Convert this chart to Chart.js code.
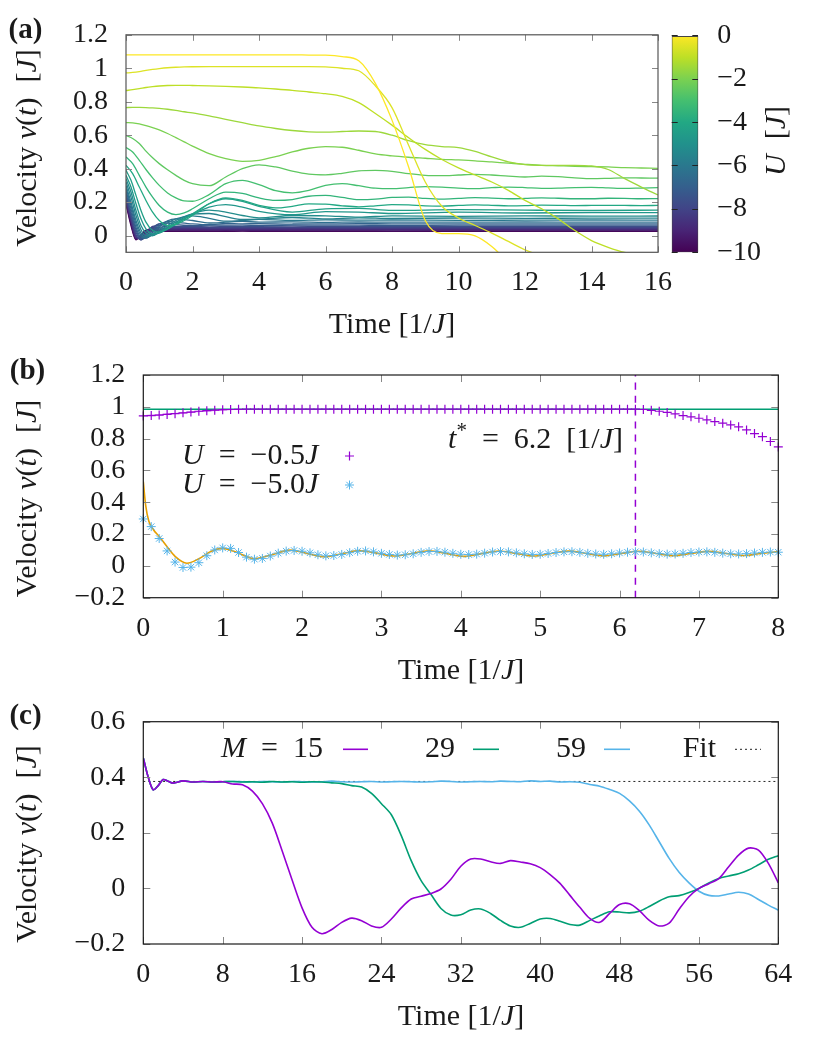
<!DOCTYPE html>
<html>
<head>
<meta charset="utf-8">
<script src="https://cdn.jsdelivr.net/npm/chart.js@4.4.1/dist/chart.umd.min.js"></script>
<style>
  html, body { margin: 0; padding: 0; background: #fff; }
  #page { position: relative; width: 831px; height: 1038px; overflow: hidden; }
  canvas { position: absolute; left: 0; top: 0; }
</style>
</head>
<body>
<div id="page">
  <canvas id="chartA" width="831" height="1038"></canvas>
  <canvas id="chartCb" width="831" height="1038"></canvas>
  <canvas id="chartB" width="831" height="1038"></canvas>
  <canvas id="chartC" width="831" height="1038"></canvas>
</div>
<script>
// ---------- panel (a): velocity for different U ----------
const T_A = [0, 0.2, 0.4, 0.6, 0.8, 1, 1.25, 1.5, 1.75, 2, 2.5, 3, 3.5, 4, 4.5, 5, 5.5, 6, 6.5, 7,
  7.5, 8, 8.5, 9, 9.5, 10, 10.5, 11, 11.5, 12, 12.5, 13, 13.5, 14, 14.5, 15, 15.5, 16];

const V_U0 = [1.08, 1.08, 1.08, 1.08, 1.08, 1.08, 1.08, 1.08, 1.08, 1.08, 1.08, 1.08, 1.08, 1.08, 1.08, 1.08,
  1.079, 1.078, 1.07, 1.045, 0.91, 0.69, 0.41, 0.09, 0.012, 0.012, -0.002, -0.065, -0.16, -0.25,
  -0.3, -0.3, -0.3, -0.3, -0.3, -0.3, -0.3, -0.3];
const V_U05 = [0.972, 0.975, 0.98, 0.987, 0.993, 0.998, 1.003, 1.006, 1.008, 1.009, 1.01, 1.01, 1.01, 1.01,
  1.01, 1.01, 1.01, 1.008, 1.0, 0.985, 0.895, 0.765, 0.54, 0.32, 0.175, 0.105, 0.06, 0.015, -0.035,
  -0.085, -0.12, -0.14, -0.15, -0.15, -0.15, -0.15, -0.15, -0.15];
const V_U1 = [0.867, 0.872, 0.878, 0.885, 0.89, 0.894, 0.897, 0.898, 0.898, 0.897, 0.895, 0.892, 0.888, 0.883,
  0.876, 0.868, 0.858, 0.848, 0.832, 0.795, 0.73, 0.66, 0.585, 0.515, 0.455, 0.405, 0.362, 0.32, 0.27,
  0.21, 0.16, 0.1, 0.03, -0.03, -0.07, -0.1, -0.115, -0.125];
const V_U15 = [0.765, 0.766, 0.766, 0.765, 0.763, 0.76, 0.755, 0.748, 0.74, 0.733, 0.715, 0.695, 0.675, 0.655,
  0.64, 0.628, 0.62, 0.618, 0.622, 0.625, 0.622, 0.6, 0.567, 0.543, 0.532, 0.526, 0.503, 0.47, 0.44,
  0.424, 0.42, 0.42, 0.42, 0.416, 0.395, 0.34, 0.29, 0.243];
const V_U2 = [0.675, 0.673, 0.667, 0.657, 0.645, 0.632, 0.61, 0.585, 0.56, 0.535, 0.49, 0.46, 0.444, 0.45,
  0.472, 0.5, 0.522, 0.532, 0.528, 0.51, 0.488, 0.476, 0.468, 0.462, 0.456, 0.452, 0.447, 0.44, 0.433,
  0.426, 0.42, 0.417, 0.414, 0.412, 0.41, 0.406, 0.404, 0.402];
const V_U25 = [0.598, 0.58, 0.55, 0.505, 0.465, 0.43, 0.393, 0.36, 0.33, 0.31, 0.298, 0.35, 0.4, 0.423, 0.41,
  0.385, 0.367, 0.363, 0.372, 0.387, 0.39, 0.384, 0.37, 0.36, 0.358, 0.362, 0.366, 0.362, 0.355, 0.35,
  0.355, 0.352, 0.345, 0.34, 0.342, 0.345, 0.344, 0.343];
const V_U3 = [0.526, 0.5, 0.45, 0.395, 0.345, 0.3, 0.255, 0.225, 0.207, 0.205, 0.245, 0.31, 0.33, 0.305, 0.268,
  0.255, 0.27, 0.3, 0.31, 0.298, 0.283, 0.28, 0.287, 0.293, 0.29, 0.283, 0.28, 0.286, 0.29, 0.287, 0.282,
  0.283, 0.287, 0.288, 0.285, 0.282, 0.284, 0.286];
const V_U35 = [0.47, 0.43, 0.36, 0.29, 0.23, 0.18, 0.14, 0.125, 0.135, 0.16, 0.22, 0.26, 0.252, 0.225, 0.21,
  0.215, 0.235, 0.24, 0.228, 0.215, 0.218, 0.228, 0.23, 0.222, 0.218, 0.222, 0.227, 0.224, 0.22, 0.222,
  0.225, 0.223, 0.22, 0.22, 0.223, 0.222, 0.22, 0.221];
const V_U4 = [0.42, 0.37, 0.29, 0.21, 0.14, 0.09, 0.06, 0.065, 0.09, 0.12, 0.19, 0.225, 0.21, 0.18, 0.165,
  0.175, 0.19, 0.188, 0.178, 0.172, 0.178, 0.185, 0.183, 0.177, 0.176, 0.18, 0.183, 0.181, 0.178, 0.179,
  0.182, 0.181, 0.179, 0.18, 0.181, 0.18, 0.179, 0.18];

const U_TOP = [0, -0.5, -1, -1.5, -2, -2.5, -3, -3.5, -4];
const V_TOP = [V_U0, V_U05, V_U1, V_U15, V_U2, V_U25, V_U3, V_U35, V_U4];

const T_LOW = [0, 0.15, 0.3, 0.45, 0.6, 0.8, 1, 1.25, 1.5, 2, 2.5, 3, 3.5, 4, 5, 6, 7, 8, 10, 12, 14, 16];
const U_LOW = [-4.4, -4.8, -5.2, -5.6, -6, -6.4, -6.8, -7.2, -7.6, -8, -8.4, -8.8, -9.2, -9.6, -10];
const V_LOW = [
  [0.39, 0.33, 0.24, 0.15, 0.08, 0.03, 0.02, 0.04, 0.07, 0.13, 0.19, 0.22, 0.205, 0.175, 0.14, 0.16, 0.162, 0.15, 0.155, 0.152, 0.15, 0.152],
  [0.36, 0.29, 0.19, 0.1, 0.04, 0.01, 0.015, 0.04, 0.07, 0.125, 0.17, 0.185, 0.17, 0.145, 0.125, 0.143, 0.14, 0.132, 0.14, 0.135, 0.138, 0.137],
  [0.34, 0.26, 0.15, 0.06, 0.015, 0.0, 0.02, 0.05, 0.08, 0.13, 0.152, 0.14, 0.12, 0.106, 0.12, 0.118, 0.11, 0.118, 0.115, 0.118, 0.116, 0.117],
  [0.32, 0.23, 0.12, 0.035, 0.0, 0.0, 0.025, 0.06, 0.09, 0.128, 0.132, 0.113, 0.096, 0.098, 0.108, 0.1, 0.106, 0.102, 0.105, 0.103, 0.104, 0.104],
  [0.3, 0.2, 0.09, 0.015, -0.01, 0.005, 0.035, 0.075, 0.1, 0.118, 0.103, 0.086, 0.09, 0.097, 0.09, 0.094, 0.092, 0.093, 0.091, 0.092, 0.093, 0.092],
  [0.285, 0.18, 0.07, 0.0, -0.015, 0.01, 0.05, 0.088, 0.1, 0.09, 0.075, 0.08, 0.085, 0.08, 0.082, 0.079, 0.081, 0.08, 0.08, 0.081, 0.08, 0.08],
  [0.27, 0.16, 0.05, -0.01, -0.015, 0.02, 0.06, 0.085, 0.08, 0.07, 0.065, 0.072, 0.07, 0.071, 0.069, 0.07, 0.071, 0.07, 0.07, 0.07, 0.07, 0.07],
  [0.255, 0.14, 0.035, -0.02, -0.01, 0.03, 0.07, 0.075, 0.065, 0.06, 0.063, 0.062, 0.062, 0.061, 0.062, 0.063, 0.062, 0.061, 0.062, 0.062, 0.062, 0.062],
  [0.24, 0.125, 0.02, -0.025, -0.005, 0.045, 0.07, 0.06, 0.055, 0.055, 0.056, 0.055, 0.054, 0.055, 0.056, 0.055, 0.055, 0.054, 0.055, 0.055, 0.055, 0.055],
  [0.23, 0.11, 0.005, -0.025, 0.005, 0.055, 0.06, 0.05, 0.048, 0.049, 0.048, 0.047, 0.048, 0.048, 0.049, 0.048, 0.047, 0.048, 0.048, 0.048, 0.048, 0.048],
  [0.22, 0.1, -0.005, -0.02, 0.015, 0.05, 0.048, 0.042, 0.042, 0.043, 0.042, 0.041, 0.042, 0.042, 0.042, 0.043, 0.042, 0.042, 0.042, 0.042, 0.042, 0.042],
  [0.21, 0.09, -0.012, -0.015, 0.025, 0.045, 0.04, 0.036, 0.036, 0.037, 0.036, 0.036, 0.035, 0.036, 0.036, 0.036, 0.037, 0.036, 0.036, 0.036, 0.036, 0.036],
  [0.2, 0.08, -0.018, -0.008, 0.03, 0.038, 0.034, 0.032, 0.032, 0.032, 0.033, 0.032, 0.032, 0.031, 0.032, 0.032, 0.032, 0.032, 0.032, 0.032, 0.032, 0.032],
  [0.195, 0.07, -0.022, 0.0, 0.032, 0.03, 0.029, 0.028, 0.028, 0.028, 0.028, 0.029, 0.028, 0.028, 0.028, 0.028, 0.028, 0.027, 0.028, 0.028, 0.028, 0.028],
  [0.19, 0.06, -0.025, 0.005, 0.03, 0.027, 0.025, 0.025, 0.025, 0.025, 0.025, 0.025, 0.026, 0.025, 0.025, 0.025, 0.025, 0.025, 0.025, 0.025, 0.025, 0.025]
];

const A_X_TICKS = [0, 2, 4, 6, 8, 10, 12, 14, 16];
const A_Y_TICKS = [0, 0.2, 0.4, 0.6, 0.8, 1, 1.2];
const CB_RANGE = [-10, 0];
const CB_TICKS = [-10, -8, -6, -4, -2, 0];

// ---------- panel (b): two values of U ----------
const T_B = [0, 0.1, 0.2, 0.3, 0.4, 0.5, 0.6, 0.7, 0.8, 0.9, 1, 1.1, 1.2, 1.3, 1.4, 1.5, 1.6, 1.7, 1.8, 1.9,
  2, 2.1, 2.2, 2.3, 2.4, 2.5, 2.6, 2.7, 2.8, 2.9, 3, 3.1, 3.2, 3.3, 3.4, 3.5, 3.6, 3.7, 3.8, 3.9,
  4, 4.1, 4.2, 4.3, 4.4, 4.5, 4.6, 4.7, 4.8, 4.9, 5, 5.1, 5.2, 5.3, 5.4, 5.5, 5.6, 5.7, 5.8, 5.9,
  6, 6.1, 6.2, 6.3, 6.4, 6.5, 6.6, 6.7, 6.8, 6.9, 7, 7.1, 7.2, 7.3, 7.4, 7.5, 7.6, 7.7, 7.8, 7.9, 8];
const V_B_U05 = [0.943, 0.945, 0.948, 0.952, 0.957, 0.962, 0.967, 0.972, 0.976, 0.979,
  0.982, 0.983, 0.984, 0.985, 0.985, 0.985, 0.985, 0.985, 0.985, 0.985,
  0.985, 0.985, 0.985, 0.985, 0.985, 0.985, 0.985, 0.985, 0.985, 0.985,
  0.985, 0.985, 0.985, 0.985, 0.985, 0.985, 0.985, 0.985, 0.985, 0.985,
  0.985, 0.985, 0.985, 0.985, 0.985, 0.985, 0.985, 0.985, 0.985, 0.985,
  0.985, 0.985, 0.985, 0.985, 0.985, 0.985, 0.985, 0.985, 0.985, 0.985,
  0.985, 0.985, 0.985, 0.983, 0.978, 0.972, 0.965, 0.955, 0.945, 0.937,
  0.928, 0.918, 0.907, 0.897, 0.886, 0.874, 0.855, 0.832, 0.812, 0.782, 0.748];
const V_B_U50 = [0.295, 0.247, 0.172, 0.094, 0.024, -0.01, -0.008, 0.02, 0.064, 0.1,
  0.113, 0.11, 0.084, 0.055, 0.042, 0.047, 0.062, 0.08, 0.093, 0.097,
  0.092, 0.082, 0.07, 0.063, 0.065, 0.072, 0.083, 0.092, 0.094, 0.088,
  0.079, 0.072, 0.068, 0.07, 0.076, 0.085, 0.09, 0.091, 0.086, 0.079,
  0.073, 0.071, 0.074, 0.08, 0.087, 0.09, 0.088, 0.082, 0.076, 0.072,
  0.073, 0.078, 0.084, 0.088, 0.089, 0.085, 0.079, 0.075, 0.073, 0.076,
  0.081, 0.086, 0.089, 0.087, 0.082, 0.077, 0.074, 0.075, 0.079, 0.084,
  0.087, 0.088, 0.085, 0.08, 0.076, 0.075, 0.077, 0.081, 0.085, 0.087, 0.086];
const T_B_LINE05 = [0, 0.2, 0.4, 0.6, 0.8, 1.0, 1.2];
const V_B_LINE05 = [0.945, 0.95, 0.958, 0.967, 0.975, 0.981, 0.984];
const T_B_FLAT = [0, 8];
const V_B_FLAT = [0.985, 0.985];
const T_B_OR = [0, 0.03, 0.07, 0.13, 0.2, 0.3, 0.4, 0.55, 0.7, 0.85, 1.0, 1.2, 1.4, 1.62, 1.85, 2.06, 2.28,
  2.5, 2.72, 2.94, 3.16, 3.38, 3.6, 3.82, 4.04, 4.26, 4.48, 4.7, 4.92, 5.14, 5.36, 5.58, 5.8, 6.02, 6.24,
  6.46, 6.68, 6.9, 7.12, 7.34, 7.56, 7.78, 8.0];
const V_B_OR = [0.53, 0.38, 0.28, 0.226, 0.185, 0.12, 0.06, 0.017, 0.045, 0.09, 0.11, 0.08, 0.045, 0.07,
  0.099, 0.078, 0.057, 0.076, 0.096, 0.08, 0.062, 0.078, 0.095, 0.078, 0.06, 0.077, 0.094, 0.078, 0.062,
  0.078, 0.093, 0.078, 0.063, 0.078, 0.092, 0.078, 0.064, 0.078, 0.091, 0.078, 0.065, 0.078, 0.09];
const T_STAR = 6.2;
const B_X_TICKS = [0, 1, 2, 3, 4, 5, 6, 7, 8];
const B_Y_TICKS = [-0.2, 0, 0.2, 0.4, 0.6, 0.8, 1, 1.2];

// ---------- panel (c): bond dimension M ----------
const T_C = [0, 0.5, 1, 1.5, 2, 2.5, 3, 4, 5, 6, 7, 8, 9, 10, 11, 12, 13, 14, 15, 16, 17, 18, 19, 20,
  21, 22, 23, 24, 25, 26, 27, 28, 29, 30, 31, 32, 33, 34, 35, 36, 37, 38, 39, 40, 41, 42, 43, 44,
  45, 46, 47, 48, 49, 50, 51, 52, 53, 54, 55, 56, 57, 58, 59, 60, 61, 62, 63, 64];
const V_M15 = [0.47, 0.4, 0.355, 0.37, 0.392, 0.386, 0.379, 0.387, 0.383, 0.385, 0.383, 0.384,
  0.376, 0.373, 0.35, 0.305, 0.235, 0.135, 0.03, -0.07, -0.14, -0.163, -0.148, -0.122, -0.107, -0.116,
  -0.135, -0.14, -0.11, -0.07, -0.038, -0.028, -0.018, -0.002, 0.033, 0.08, 0.106, 0.106, 0.096, 0.09,
  0.1, 0.095, 0.089, 0.075, 0.05, 0.018, -0.025, -0.068, -0.108, -0.122, -0.09, -0.058, -0.055, -0.08,
  -0.115, -0.135, -0.125, -0.075, -0.03, 0.0, 0.017, 0.035, 0.078, 0.12, 0.145, 0.138, 0.09, 0.02];
const V_M29 = [0.47, 0.4, 0.355, 0.37, 0.392, 0.386, 0.379, 0.387, 0.383, 0.385, 0.383, 0.384,
  0.385, 0.383, 0.384, 0.382, 0.385, 0.383, 0.384, 0.382, 0.384, 0.383, 0.38, 0.377, 0.37, 0.365,
  0.342, 0.305, 0.265, 0.19, 0.1, 0.028, -0.022, -0.072, -0.096, -0.095, -0.078, -0.074, -0.09, -0.115,
  -0.135, -0.14, -0.126, -0.11, -0.108, -0.118, -0.13, -0.132, -0.115, -0.098, -0.084, -0.085, -0.088,
  -0.082, -0.065, -0.045, -0.03, -0.026, -0.015, 0.0, 0.02, 0.036, 0.045, 0.053, 0.066, 0.085, 0.105, 0.118];
const V_M59 = [0.47, 0.4, 0.355, 0.37, 0.392, 0.386, 0.379, 0.387, 0.383, 0.385, 0.383, 0.384,
  0.385, 0.384, 0.383, 0.385, 0.384, 0.383, 0.385, 0.384, 0.383, 0.384, 0.386, 0.384, 0.383, 0.384,
  0.385, 0.383, 0.384, 0.385, 0.384, 0.383, 0.384, 0.386, 0.385, 0.383, 0.384, 0.385, 0.384, 0.386,
  0.385, 0.384, 0.387, 0.385, 0.386, 0.383, 0.384, 0.382, 0.374, 0.368, 0.356, 0.342, 0.315, 0.278,
  0.228, 0.168, 0.108, 0.058, 0.02, -0.01, -0.025, -0.027, -0.02, -0.014, -0.02, -0.04, -0.06, -0.078];
const T_FIT = [0, 64];
const V_FIT = [0.385, 0.385];
const C_X_TICKS = [0, 8, 16, 24, 32, 40, 48, 56, 64];
const C_Y_TICKS = [-0.2, 0, 0.2, 0.4, 0.6];

// ---------- styling helpers ----------
const PAGE_W = 831, PAGE_H = 1038;
const FAM = '"Liberation Serif", "DejaVu Serif", serif';
const INK = '#1a1a1a';
const VIRIDIS = ['#440154', '#482475', '#414487', '#355f8d', '#2a788e', '#21918c',
  '#22a884', '#44bf70', '#7ad151', '#bddf26', '#fde725'];

function viridis(f) {
  f = Math.max(0, Math.min(1, f));
  const p = f * (VIRIDIS.length - 1);
  const i = Math.min(Math.floor(p), VIRIDIS.length - 2);
  const w = p - i;
  const a = parseInt(VIRIDIS[i].slice(1), 16), b = parseInt(VIRIDIS[i + 1].slice(1), 16);
  const ch = (n, s) => (n >> s) & 255;
  const mix = s => Math.round(ch(a, s) * (1 - w) + ch(b, s) * w);
  return `rgb(${mix(16)},${mix(8)},${mix(0)})`;
}

const pts = (ts, vs) => vs.map((v, i) => ({ x: ts[i], y: v }));

function fmt(v) {
  const r = Math.round(v * 100) / 100;
  return r < 0 ? '\u2212' + String(Math.abs(r)) : String(r);
}

function fontFor(style, size) {
  if (style === 'b') return 'bold ' + size + 'px ' + FAM;
  if (style === 'i') return 'italic ' + size + 'px ' + FAM;
  if (style === 's') return Math.round(size * 0.7) + 'px ' + FAM;
  return size + 'px ' + FAM;
}

function rich(ctx, parts, x, y, align, size) {
  let w = 0;
  parts.forEach(([t, s]) => { ctx.font = fontFor(s, size); w += ctx.measureText(t).width; });
  let cx = align === 'center' ? x - w / 2 : align === 'right' ? x - w : x;
  ctx.textAlign = 'left';
  ctx.textBaseline = 'middle';
  ctx.fillStyle = INK;
  parts.forEach(([t, s]) => {
    ctx.font = fontFor(s, size);
    ctx.fillText(t, cx, s === 's' ? y - size * 0.28 : y);
    cx += ctx.measureText(t).width;
  });
}

function rotRich(ctx, parts, x, y, size) {
  ctx.save();
  ctx.translate(x, y);
  ctx.rotate(-Math.PI / 2);
  rich(ctx, parts, 0, 0, 'center', size);
  ctx.restore();
}

const Y_TITLE = [['Velocity ', ''], ['v', 'i'], ['(', ''], ['t', 'i'], [')  [', ''], ['J', 'i'], [']', '']];
const X_TITLE = [['Time [1/', ''], ['J', 'i'], [']', '']];

function xAxis(min, max, ticks, h) {
  return {
    type: 'linear', min: min, max: max,
    afterBuildTicks: s => { s.ticks = ticks.map(v => ({ value: v })); },
    afterFit: s => { s.height = h; },
    grid: { display: false, drawTicks: false },
    border: { display: false },
    ticks: { padding: 14, color: INK, font: { family: FAM, size: 28 }, maxRotation: 0, autoSkip: false, callback: v => fmt(v) }
  };
}

function yAxis(min, max, ticks, w) {
  return {
    type: 'linear', min: min, max: max,
    afterBuildTicks: s => { s.ticks = ticks.map(v => ({ value: v })); },
    afterFit: s => { s.width = w; },
    grid: { display: false, drawTicks: false },
    border: { display: false },
    ticks: { padding: 18, color: INK, font: { family: FAM, size: 28 }, autoSkip: false, callback: v => fmt(v) }
  };
}

// frame with inward ticks on all four sides
const framePlugin = {
  id: 'frame',
  afterDatasetsDraw(chart, args, opts) {
    const { ctx, chartArea: a, scales } = chart;
    const L = opts.len || 7;
    ctx.save();
    ctx.lineWidth = 1;
    ctx.strokeStyle = opts.tickColor || '#777';
    ctx.beginPath();
    scales.x.ticks.forEach(t => {
      const px = Math.round(scales.x.getPixelForValue(t.value)) + 0.5;
      ctx.moveTo(px, a.bottom); ctx.lineTo(px, a.bottom - L);
      ctx.moveTo(px, a.top); ctx.lineTo(px, a.top + L);
    });
    scales.y.ticks.forEach(t => {
      const py = Math.round(scales.y.getPixelForValue(t.value)) + 0.5;
      ctx.moveTo(a.left, py); ctx.lineTo(a.left + L, py);
      ctx.moveTo(a.right, py); ctx.lineTo(a.right - L, py);
    });
    ctx.stroke();
    ctx.strokeStyle = opts.color || INK;
    ctx.lineWidth = 1.2;
    ctx.strokeRect(a.left, a.top, a.right - a.left, a.bottom - a.top);
    ctx.restore();
  }
};

// plot box given in page pixels: left, top, right, bottom
function baseOptions(box) {
  return {
    responsive: false,
    animation: false,
    events: [],
    layout: { padding: { left: 0, right: PAGE_W - box[2], top: box[1], bottom: 0 } },
    elements: { point: { radius: 0 }, line: { borderWidth: 1.3, cubicInterpolationMode: 'monotone' } },
    plugins: { legend: { display: false }, tooltip: { enabled: false } }
  };
}

// ---------- chart (a) ----------
const BOX_A = [126, 29.3, 658, 252.3];
const datasetsA = [];
V_TOP.forEach((vals, i) => {
  datasetsA.push({ data: pts(T_A, vals), borderColor: viridis((U_TOP[i] + 10) / 10), borderWidth: 1.3, fill: false });
});
V_LOW.forEach((vals, i) => {
  datasetsA.push({ data: pts(T_LOW, vals), borderColor: viridis((U_LOW[i] + 10) / 10), borderWidth: 1.3, fill: false });
});

const optsA = baseOptions(BOX_A);
optsA.scales = { x: xAxis(0, 16, A_X_TICKS, PAGE_H - BOX_A[3]), y: yAxis(-0.1, 1.2, A_Y_TICKS, BOX_A[0]) };
optsA.plugins.frame = { len: 6, tickColor: '#888', color: '#555' };

new Chart(document.getElementById('chartA'), {
  type: 'line',
  data: { datasets: datasetsA },
  options: optsA,
  plugins: [framePlugin, {
    id: 'notesA',
    afterDraw(chart) {
      const ctx = chart.ctx;
      rich(ctx, [['(a)', 'b']], 25.5, 31, 'center', 29);
      rotRich(ctx, Y_TITLE, 28, 148, 30);
      rich(ctx, X_TITLE, 392, 325, 'center', 30);
    }
  }]
});

// ---------- colour bar ----------
const BOX_CB = [671.7, 29.3, 698.3, 252.3];
new Chart(document.getElementById('chartCb'), {
  type: 'bar',
  data: {
    labels: ['U'],
    datasets: [{
      data: [CB_RANGE],
      barPercentage: 1, categoryPercentage: 1,
      borderColor: '#444', borderWidth: 1, borderSkipped: false,
      backgroundColor: c => {
        const area = c.chart.chartArea;
        if (!area) return '#21918c';
        const g = c.chart.ctx.createLinearGradient(0, area.bottom, 0, area.top);
        VIRIDIS.forEach((col, i) => g.addColorStop(i / (VIRIDIS.length - 1), col));
        return g;
      }
    }]
  },
  options: {
    responsive: false, animation: false, events: [],
    layout: { padding: { left: BOX_CB[0], right: 0, top: BOX_CB[1], bottom: PAGE_H - BOX_CB[3] } },
    plugins: { legend: { display: false }, tooltip: { enabled: false } },
    scales: {
      x: { display: false },
      y: {
        position: 'right', min: -10, max: 0,
        afterBuildTicks: s => { s.ticks = CB_TICKS.map(v => ({ value: v })); },
        afterFit: s => { s.width = PAGE_W - BOX_CB[2]; },
        grid: { display: true, drawOnChartArea: true, drawTicks: false, color: '#222', z: 1 },
        border: { display: false, dash: [6, 14.6] },
        ticks: { padding: 19, color: INK, font: { family: FAM, size: 28 }, callback: v => fmt(v) }
      }
    }
  },
  plugins: [{
    id: 'cbTitle',
    afterDraw(chart) {
      rotRich(chart.ctx, [['U', 'i'], ['  [', ''], ['J', 'i'], [']', '']], 777, 141, 30);
    }
  }]
});

// ---------- chart (b) ----------
const VIOLET = '#9400d3', GREEN = '#009e73', SKY = '#56b4e9', ORANGE = '#e69f00';
const BOX_B = [143.3, 375, 778.3, 597.7];

const optsB = baseOptions(BOX_B);
optsB.scales = { x: xAxis(0, 8, B_X_TICKS, PAGE_H - BOX_B[3]), y: yAxis(-0.2, 1.2, B_Y_TICKS, BOX_B[0]) };
optsB.plugins.frame = { len: 7, tickColor: '#888', color: INK };

new Chart(document.getElementById('chartB'), {
  type: 'line',
  data: {
    datasets: [
      { data: pts(T_B, V_B_U05), showLine: false, pointStyle: 'cross', pointRadius: 4.5, pointBorderColor: VIOLET, pointBorderWidth: 1.2, borderColor: VIOLET, clip: 10 },
      { data: pts(T_B, V_B_U50), showLine: false, pointStyle: 'star', pointRadius: 4.5, pointBorderColor: SKY, pointBorderWidth: 1, borderColor: SKY, clip: 10 },
      { data: pts(T_B_OR, V_B_OR), borderColor: ORANGE, borderWidth: 1.6 },
      { data: pts(T_B_LINE05, V_B_LINE05), borderColor: '#c860e8', borderWidth: 1.2 },
      { data: pts(T_B_FLAT, V_B_FLAT), borderColor: GREEN, borderWidth: 1.6 },
      { data: [{ x: T_STAR, y: -0.2 }, { x: T_STAR, y: 1.2 }], borderColor: VIOLET, borderWidth: 1.5, borderDash: [7, 6] }
    ]
  },
  options: optsB,
  plugins: [framePlugin, {
    id: 'notesB',
    afterDraw(chart) {
      const ctx = chart.ctx;
      rich(ctx, [['(b)', 'b']], 27.5, 372, 'center', 29);
      rotRich(ctx, Y_TITLE, 28, 498.5, 30);
      rich(ctx, X_TITLE, 461, 671, 'center', 30);
      rich(ctx, [['U', 'i'], ['  =  \u22120.5', ''], ['J', 'i']], 182, 456, 'left', 30);
      rich(ctx, [['U', 'i'], ['  =  \u22125.0', ''], ['J', 'i']], 182, 485, 'left', 30);
      rich(ctx, [['t', 'i'], ['*', 's'], ['  =  6.2  [1/', ''], ['J', 'i'], [']', '']], 623, 440, 'right', 30);
      ctx.save();
      ctx.lineWidth = 1.2;
      ctx.strokeStyle = VIOLET;
      ctx.beginPath();
      ctx.moveTo(345, 456); ctx.lineTo(354, 456); ctx.moveTo(349.5, 451.5); ctx.lineTo(349.5, 460.5);
      ctx.stroke();
      ctx.strokeStyle = SKY;
      ctx.lineWidth = 1;
      ctx.beginPath();
      ctx.moveTo(345, 485); ctx.lineTo(354, 485); ctx.moveTo(349.5, 480.5); ctx.lineTo(349.5, 489.5);
      ctx.moveTo(346.3, 481.8); ctx.lineTo(352.7, 488.2); ctx.moveTo(352.7, 481.8); ctx.lineTo(346.3, 488.2);
      ctx.stroke();
      ctx.restore();
    }
  }]
});

// ---------- chart (c) ----------
const BOX_C = [143.3, 721.7, 778.3, 944];
const optsC = baseOptions(BOX_C);
optsC.scales = { x: xAxis(0, 64, C_X_TICKS, PAGE_H - BOX_C[3]), y: yAxis(-0.2, 0.6, C_Y_TICKS, BOX_C[0]) };
optsC.plugins.frame = { len: 7, tickColor: '#888', color: INK };
optsC.elements.line.cubicInterpolationMode = 'default';
optsC.elements.line.tension = 0.3;

new Chart(document.getElementById('chartC'), {
  type: 'line',
  data: {
    datasets: [
      { data: pts(T_C, V_M15), borderColor: VIOLET, borderWidth: 1.6 },
      { data: pts(T_C, V_M29), borderColor: GREEN, borderWidth: 1.6 },
      { data: pts(T_C, V_M59), borderColor: SKY, borderWidth: 1.6 },
      { data: pts(T_FIT, V_FIT), borderColor: '#222', borderWidth: 1, borderDash: [2, 3] }
    ]
  },
  options: optsC,
  plugins: [framePlugin, {
    id: 'notesC',
    afterDraw(chart) {
      const ctx = chart.ctx;
      rich(ctx, [['(c)', 'b']], 25.5, 717, 'center', 29);
      rotRich(ctx, Y_TITLE, 28, 844, 30);
      rich(ctx, X_TITLE, 461, 1017, 'center', 30);
      const ly = 749.3;
      rich(ctx, [['M', 'i'], ['  =  15', '']], 323, ly, 'right', 30);
      rich(ctx, [['29', '']], 455, ly, 'right', 30);
      rich(ctx, [['59', '']], 586, ly, 'right', 30);
      rich(ctx, [['Fit', '']], 716, ly, 'right', 30);
      const seg = (x0, x1, col, dash, w) => {
        ctx.save();
        ctx.strokeStyle = col; ctx.lineWidth = w; ctx.setLineDash(dash);
        ctx.beginPath(); ctx.moveTo(x0, ly); ctx.lineTo(x1, ly); ctx.stroke();
        ctx.restore();
      };
      seg(343, 368, VIOLET, [], 1.6);
      seg(473, 499, GREEN, [], 1.6);
      seg(604, 630, SKY, [], 1.6);
      seg(735, 761, '#222', [2, 3], 1);
    }
  }]
});
</script>
</body>
</html>
